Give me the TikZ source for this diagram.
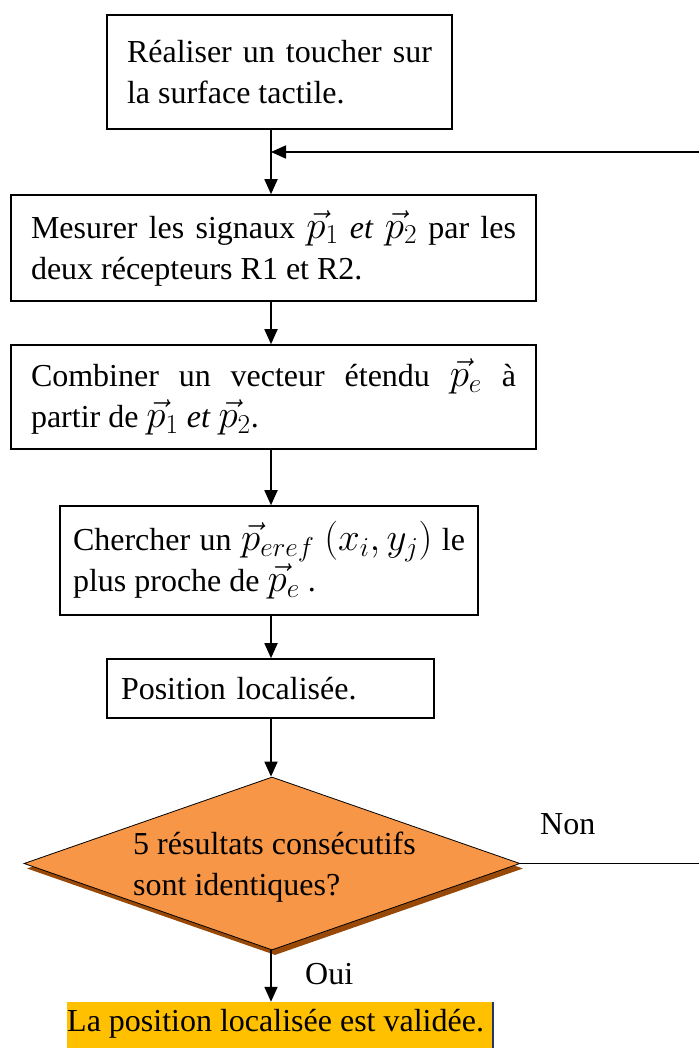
\RequirePackage{fix-cm}
\documentclass[tikz,border=0pt]{standalone}
\usepackage{fontspec}
\setmainfont{Liberation Serif}
\usetikzlibrary{arrows.meta,shapes.geometric}
\definecolor{orangefill}{HTML}{F79646}
\definecolor{shadowbrown}{HTML}{984807}
\definecolor{yellowfill}{HTML}{FFC000}
\definecolor{cursorcol}{HTML}{1F3864}
\newcommand{\mth}[1]{\scalebox{1.22}{$#1$}}
\begin{document}
\begin{tikzpicture}[x=1pt,y=-1pt,
  font=\fontsize{32}{41}\selectfont,
  box/.style={draw,line width=1.6pt,rectangle,inner ysep=0pt,align=justify},
  flow/.style={line width=1.8pt,-{Triangle[length=15pt,width=13pt]}},
  plain/.style={line width=1.8pt},
  lbl/.style={inner sep=0pt,anchor=base west}]
\useasboundingbox (0,0) rectangle (699,1048);
\node[box,minimum width=345pt,minimum height=114pt,inner xsep=20pt,text width=305pt] (b1) at (279.5,72)
  {Réaliser un toucher sur\linebreak la surface tactile.};
\node[box,minimum width=525pt,minimum height=106pt,inner xsep=20pt,text width=485pt] (b2) at (273.5,248)
  {Mesurer les signaux \mth{\vec{p}_1} \textit{et} \mth{\vec{p}_2} par les\linebreak deux récepteurs R1 et R2.};
\node[box,minimum width=525pt,minimum height=104pt,inner xsep=20pt,text width=485pt] (b3) at (273.5,397)
  {Combiner un vecteur étendu \mth{\vec{p}_e} à\linebreak partir de \mth{\vec{p}_1} \textit{et} \mth{\vec{p}_2}.};
\node[box,minimum width=418pt,minimum height=109pt,inner xsep=13pt,text width=392pt] (b4) at (269,560.5)
  {Chercher un \mth{\vec{p}_{eref}\ \bigl(x_i,y_j\bigr)} le\linebreak plus proche de \mth{\vec{p}_e} .};
\node[box,minimum width=327pt,minimum height=59pt,inner xsep=13pt,text width=299pt,align=left] (b5) at (270.5,688.5)
  {Position localisée.};
% diamond with shadow
\node[diamond,fill=shadowbrown,minimum width=496pt,minimum height=173pt,inner sep=0pt] (dshadow) at (275,868.5) {};
\node[diamond,draw,line width=0.8pt,fill=orangefill,minimum width=496pt,minimum height=173pt,inner sep=0pt] (d) at (272,863.5) {};
\node[inner sep=0pt,align=left,anchor=west] (dtext) at (133,867) {5 résultats consécutifs\\sont identiques?};
% final
\node[fill=yellowfill,minimum width=425pt,minimum height=46pt,inner sep=0pt] (fin) at (279.5,1025) {};
\node[inner sep=0pt,anchor=west] (fintext) at (67,1024) {La position localisée est validée.};
\coordinate (curtop) at (493,1002);
\coordinate (curbot) at (493,1048);
\draw[cursorcol,line width=1.5pt] (curtop) -- (curbot);
% connectors
\coordinate (right1) at (699,152);
\coordinate (join) at (271,152);
\coordinate (right2) at (699,863.5);
\draw[flow] (b1.south -| join) -- (b2.north -| join);
\draw[flow] (right1) -- (join);
\draw[flow] (b2.south -| join) -- (b3.north -| join);
\draw[flow] (b3.south -| join) -- (b4.north -| join);
\draw[flow] (b4.south -| join) -- (b5.north -| join);
\draw[flow] (b5.south -| join) -- (d.north -| join);
\draw[plain,line width=1.2pt] (d.east) -- (right2);
\draw[flow] (d.south -| join) -- (fin.north -| join);
\node[lbl] (non) at (540,834) {Non};
\node[lbl] (oui) at (305,984) {Oui};
\end{tikzpicture}
\end{document}
